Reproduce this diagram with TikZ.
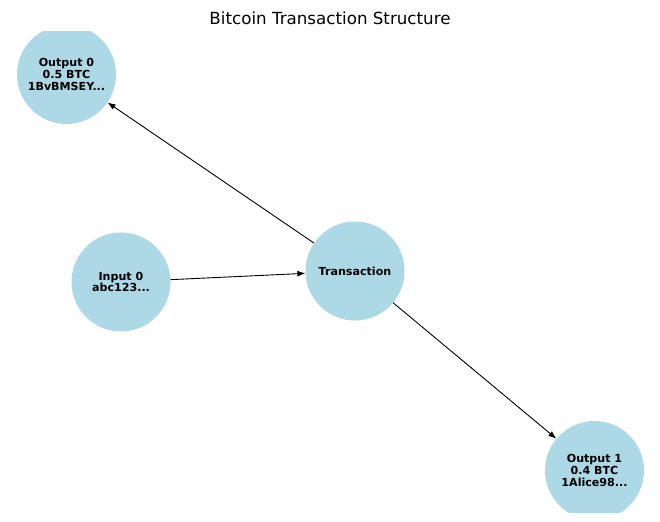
\documentclass[tikz,border=0pt]{standalone}
\usepackage{fontspec}
\setmainfont{DejaVu Sans}
\usetikzlibrary{arrows.meta}
\definecolor{lightblue}{HTML}{ADD8E6}

\begin{document}
\begin{tikzpicture}[x=1bp, y=-1bp, every node/.style={font=\fontsize{11.1bp}{11.8bp}\selectfont\bfseries}, txnode/.style={circle,fill=lightblue,minimum size=99bp,inner sep=0pt,align=center}, arr/.style={-{Latex[length=8bp,width=6bp]}, line width=0.9bp}]
\useasboundingbox (0,0) rectangle (660,522);
\node[font=\fontsize{16.7bp}{20bp}\selectfont] (title) at (330,18) {Bitcoin Transaction Structure};
\begin{scope}
\clip (0,32) rectangle (660,512);
\node[txnode] (tx) at (355,271) {Transaction};
\node[txnode] (in0) at (121,282) {Input 0\\abc123...};
\node[txnode] (out0) at (66.5,74.5) {Output 0\\0.5 BTC\\1BvBMSEY...};
\node[txnode] (out1) at (594.5,470.5) {Output 1\\0.4 BTC\\1Alice98...};
\end{scope}
\draw[arr] (in0)--(tx);\draw[arr] (tx)--(out0);\draw[arr] (tx)--(out1);
\end{tikzpicture}
\end{document}
